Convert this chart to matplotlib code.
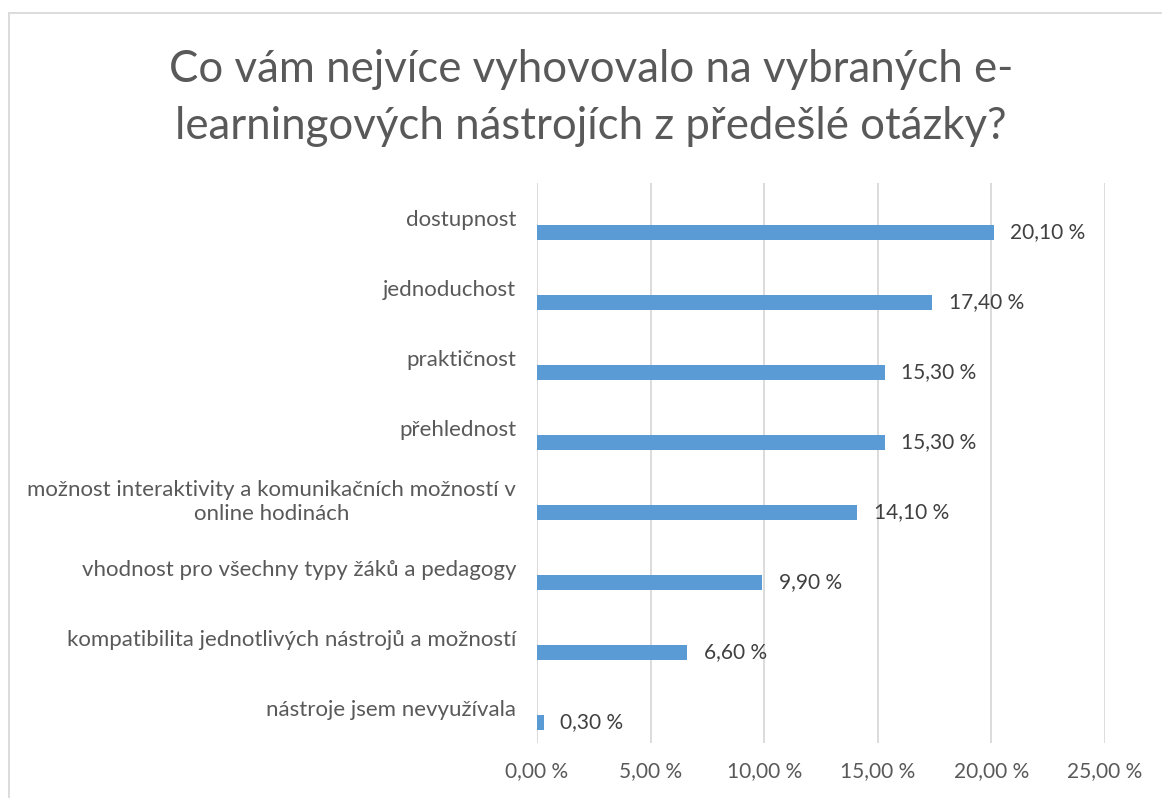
import matplotlib.pyplot as plt
import numpy as np
from matplotlib.lines import Line2D

plt.rcParams['font.family'] = ['Lato', 'DejaVu Sans']

kategorie = [
    'dostupnost',
    'jednoduchost',
    'praktičnost',
    'přehlednost',
    'možnost interaktivity a komunikačních možností v\nonline hodinách',
    'vhodnost pro všechny typy žáků a pedagogy',
    'kompatibilita jednotlivých nástrojů a možností',
    'nástroje jsem nevyužívala',
]
hodnoty = [20.1, 17.4, 15.3, 15.3, 14.1, 9.9, 6.6, 0.3]
xticky = [0, 5, 10, 15, 20, 25]

seda = '#595959'
modra = '#5b9bd5'

fig = plt.figure(figsize=(11.62, 7.98), dpi=100)
ax = fig.add_axes([0.4621, 0.0689, 0.4888, 0.7018])

y = np.arange(len(kategorie))
posun = 0.207
ax.barh(y + posun, hodnoty, height=0.214, color=modra, zorder=3)

for yi, h in zip(y, hodnoty):
    ax.annotate(f'{h:.2f} %'.replace('.', ','), (h, yi + posun),
                xytext=(12, 0), textcoords='offset points',
                va='center', ha='left', fontsize=15, color='#404040')

ax.set_xlim(0, 25)
ax.set_ylim(len(kategorie) - 0.5, -0.5)
ax.set_xticks(xticky)
ax.set_xticklabels([f'{t:.2f} %'.replace('.', ',') for t in xticky],
                   fontsize=15, color=seda)
ax.set_yticks(y)
ax.set_yticklabels(kategorie, fontsize=16, color=seda, ha='right',
                   multialignment='center', linespacing=1.25)
ax.tick_params(axis='both', length=0)
ax.tick_params(axis='y', pad=15)
ax.tick_params(axis='x', pad=13)
ax.grid(axis='x', color='#d9d9d9', linewidth=1.3, zorder=0)
for s in ax.spines.values():
    s.set_visible(False)

fig.text(0.5085, 0.877,
         'Co vám nejvíce vyhovovalo na vybraných e-\nlearningových nástrojích z předešlé otázky?',
         ha='center', va='center', fontsize=31.5, color=seda, linespacing=1.5)

# ramecek grafu
fig.add_artist(Line2D([9 / 1162, 1.0], [1 - 12.5 / 798] * 2, color='#d9d9d9', lw=1.3))
fig.add_artist(Line2D([9 / 1162] * 2, [0.0, 1 - 12.5 / 798], color='#d9d9d9', lw=1.3))

fig.savefig('out.png', dpi=100)
